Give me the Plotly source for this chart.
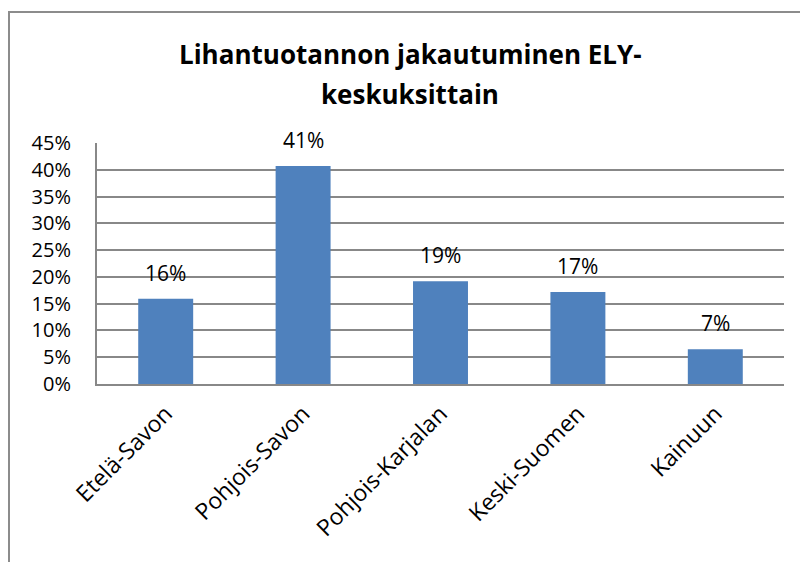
import plotly.graph_objects as go

categories = ["Etelä-Savon", "Pohjois-Savon", "Pohjois-Karjalan", "Keski-Suomen", "Kainuun"]
values = [0.159, 0.407, 0.192, 0.172, 0.065]
labels = ["16%", "41%", "19%", "17%", "7%"]
y_ticks = [0, 0.05, 0.10, 0.15, 0.20, 0.25, 0.30, 0.35, 0.40, 0.45]
y_tick_labels = ["0%", "5%", "10%", "15%", "20%", "25%", "30%", "35%", "40%", "45%"]
title_lines = ["Lihantuotannon jakautuminen ELY-", "keskuksittain"]

FONT = "Open Sans"
GRID = "#888888"

# page offset of 8px (body margin) -> figure is 800x554
W, H = 800, 554
L, R, T, B = 89, 24, 135, 178
pw, ph = W - L - R, H - T - B

fig = go.Figure(go.Bar(
    x=categories, y=values,
    marker=dict(color="#4F81BD", line=dict(width=0)),
    width=0.4,
))

annotations = []
for c, v, t in zip(categories, values, labels):
    annotations.append(dict(x=c, y=v, xref="x", yref="y", text=t, showarrow=False,
                            yanchor="bottom", yshift=10,
                            font=dict(family=FONT, size=21, color="#000000")))
for i, line in enumerate(title_lines):
    fy = [46, 86][i]
    annotations.append(dict(x=(402 - L) / pw, y=(H - B - fy) / ph, xref="paper", yref="paper",
                            text="<b>" + line + "</b>", showarrow=False,
                            xanchor="center", yanchor="middle",
                            font=dict(family=FONT, size=26, color="#000000")))

fig.update_layout(
    width=W, height=H,
    margin=dict(l=L, r=R, t=T, b=B),
    paper_bgcolor="white", plot_bgcolor="white",
    showlegend=False,
    annotations=annotations,
    xaxis=dict(showline=True, linecolor=GRID, linewidth=2, ticks="",
               tickangle=-45, tickfont=dict(family=FONT, size=23, color="#000000"),
               ticklabelstandoff=5, showgrid=False),
    yaxis=dict(range=[0, 0.45], tickvals=y_ticks, ticktext=y_tick_labels,
               showline=True, linecolor=GRID, linewidth=2,
               showgrid=True, gridcolor=GRID, gridwidth=2, ticks="",
               ticklabelstandoff=20,
               tickfont=dict(family=FONT, size=20, color="#000000"),
               zeroline=False),
    shapes=[dict(type="rect", xref="paper", yref="paper",
                 x0=(1 - L) / pw, x1=1.2, y0=-1.0, y1=(H - B - 4) / ph,
                 line=dict(color="#8c8c8c", width=2), fillcolor="rgba(0,0,0,0)",
                 layer="below")],
)

fig.write_html("out.html")
